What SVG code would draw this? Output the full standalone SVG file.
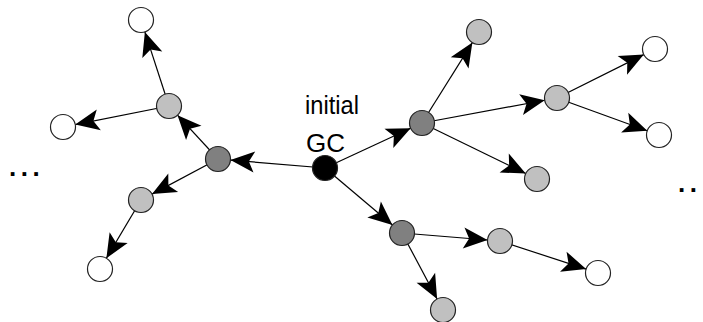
<svg xmlns="http://www.w3.org/2000/svg" width="703" height="322" viewBox="0 0 703 322">
<style>
.e{stroke:#000;stroke-width:1.2;fill:none;marker-end:url(#arr)}
.n{stroke:#222;stroke-width:1.2}
.w{fill:#fff}
.l{fill:#c0c0c0}
.d{fill:#808080}
.b{fill:#000}
.t{font-family:"Liberation Sans",Arial,sans-serif;font-size:26px;fill:#000}
.dots{font-family:"Liberation Sans",Arial,sans-serif;font-size:26px;letter-spacing:4.5px;font-weight:bold;fill:#000}
</style>
<defs>
<marker id="arr" markerUnits="userSpaceOnUse" markerWidth="28" markerHeight="26" viewBox="-26 -13 28 26" refX="0" refY="0" orient="auto">
<path d="M0,0 L-24,-10.5 L-18.5,0 L-24,10.5 z" fill="#000"/>
</marker>
</defs>
<g id="connectors">
<line class="e" x1="325" y1="168" x2="230.45" y2="160.05"/>
<line class="e" x1="325" y1="168" x2="410.66" y2="128.26"/>
<line class="e" x1="325" y1="168" x2="392.45" y2="224.94"/>
<line class="e" x1="218" y1="159" x2="177.49" y2="115.18"/>
<line class="e" x1="218" y1="159" x2="152.04" y2="194.12"/>
<line class="e" x1="169" y1="106" x2="144.87" y2="31.89"/>
<line class="e" x1="169" y1="106" x2="75.26" y2="124.57"/>
<line class="e" x1="141" y1="200" x2="106.38" y2="258.26"/>
<line class="e" x1="422" y1="123" x2="472.37" y2="42.59"/>
<line class="e" x1="422" y1="123" x2="544.71" y2="100.28"/>
<line class="e" x1="422" y1="123" x2="525.76" y2="173.53"/>
<line class="e" x1="557" y1="98" x2="643.82" y2="54.59"/>
<line class="e" x1="557" y1="98" x2="647.25" y2="130.74"/>
<line class="e" x1="402" y1="233" x2="487.54" y2="239.98"/>
<line class="e" x1="402" y1="233" x2="437.12" y2="298.96"/>
<line class="e" x1="500" y1="241" x2="586.12" y2="269.12"/>
</g>
<g id="gc"><circle class="n b" cx="325" cy="168" r="12.5"/></g>
<g id="d1"><circle class="n d" cx="218" cy="159" r="12.5"/></g>
<g id="d2"><circle class="n d" cx="422" cy="123" r="12.5"/></g>
<g id="d3"><circle class="n d" cx="402" cy="233" r="12.5"/></g>
<g id="l1"><circle class="n l" cx="169" cy="106" r="12.5"/></g>
<g id="l2"><circle class="n l" cx="141" cy="200" r="12.5"/></g>
<g id="l3"><circle class="n l" cx="479" cy="32" r="12.5"/></g>
<g id="l4"><circle class="n l" cx="557" cy="98" r="12.5"/></g>
<g id="l5"><circle class="n l" cx="537" cy="179" r="12.5"/></g>
<g id="l6"><circle class="n l" cx="500" cy="241" r="12.5"/></g>
<g id="l7"><circle class="n l" cx="443" cy="310" r="12.5"/></g>
<g id="w1"><circle class="n w" cx="141" cy="20" r="12.5"/></g>
<g id="w2"><circle class="n w" cx="63" cy="127" r="12.5"/></g>
<g id="w3"><circle class="n w" cx="100" cy="269" r="12.5"/></g>
<g id="w4"><circle class="n w" cx="655" cy="49" r="12.5"/></g>
<g id="w5"><circle class="n w" cx="659" cy="135" r="12.5"/></g>
<g id="w6"><circle class="n w" cx="598" cy="273" r="12.5"/></g>
<g id="labels">
<text class="t" x="305" y="114" textLength="54" lengthAdjust="spacingAndGlyphs">initial</text>
<text class="t" x="306" y="152">GC</text>
<text class="dots" x="9" y="176">...</text>
<text class="dots" x="678" y="192">..</text>
</g>
</svg>
